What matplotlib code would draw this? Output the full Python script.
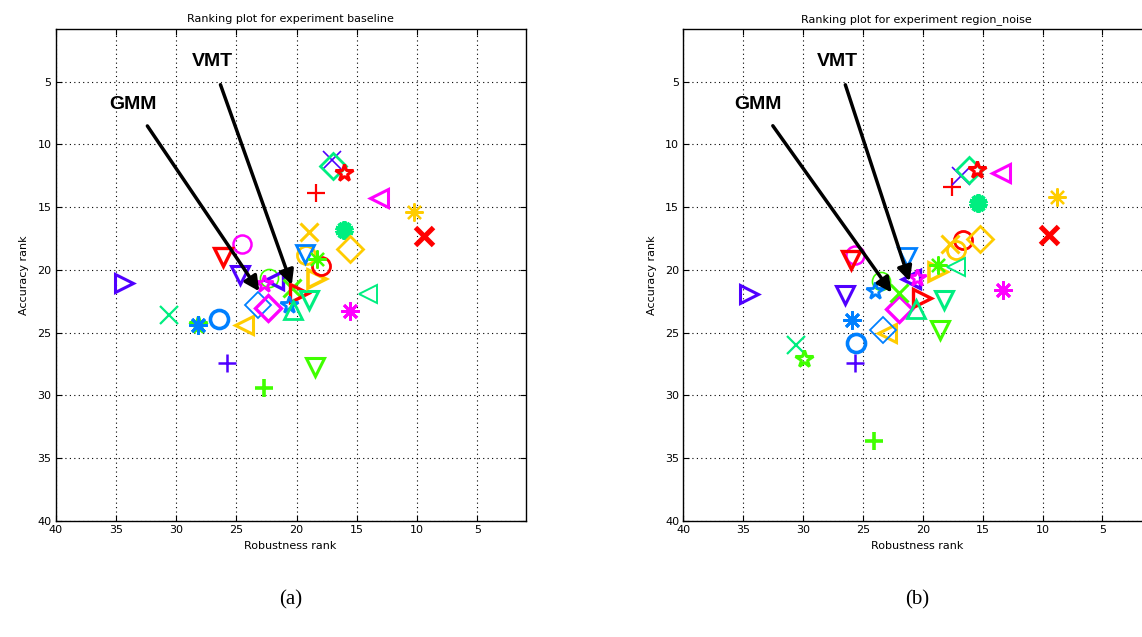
import matplotlib
matplotlib.use("Agg")
import matplotlib.pyplot as plt

RED = "#ff0000"
MAG = "#ff00ff"
PUR = "#5000ff"
BLU = "#0080ff"
TEA = "#00ee80"
LIM = "#40ff00"
YEL = "#ffcc00"

# one entry per tracker: marker, colour, line width
markers = [">", "x", "*", (8, 2, 0), "o", "+", "+", "o", "v", "v",
           "<", "D", "D", "o", "<", "x", ">", "*", "^", "v",
           "v", (8, 2, 0), ">", "o", "o", "v", (8, 2, 0), "x", (10, 2, 0), "D",
           "+", "x", "D", "*", "<", (8, 2, 0), "x", "*", "<"]
colors = [PUR, TEA, LIM, BLU, BLU, PUR, LIM, MAG, RED, PUR,
          YEL, BLU, MAG, LIM, PUR, LIM, RED, BLU, TEA, TEA,
          LIM, MAG, YEL, RED, YEL, BLU, LIM, YEL, TEA, YEL,
          RED, PUR, TEA, RED, MAG, YEL, RED, MAG, TEA]
widths = [2.2, 1.6, 2.2, 2.0, 2.6, 1.8, 2.6, 1.8, 2.4, 2.2,
          2.2, 1.3, 2.4, 1.2, 2.4, 2.2, 2.4, 2.0, 2.0, 2.2,
          2.2, 2.0, 2.6, 2.0, 2.0, 2.0, 1.6, 2.2, 3.0, 2.0,
          1.6, 1.2, 2.0, 2.2, 2.2, 1.6, 3.6, 2.0, 1.4]

# experiment baseline (robustness rank, accuracy rank)
base_rob = [34.3, 30.6, 28.2, 28.2, 26.4, 25.8, 22.7, 24.5, 26.1, 24.7,
            24.4, 23.2, 22.4, 22.3, 21.9, 20.4, 19.8, 20.6, 20.3, 19.0,
            18.5, 15.6, 18.3, 18.0, 19.2, 19.3, 18.3, 19.0, 16.1, 15.6,
            18.4, 17.1, 17.0, 16.1, 13.2, 10.3, 9.4, 22.7, 14.1]
base_acc = [21.0, 23.6, 24.4, 24.4, 23.9, 27.4, 29.4, 17.9, 19.0, 20.4,
            24.4, 22.8, 23.0, 20.6, 20.8, 21.4, 21.8, 22.8, 23.2, 22.4,
            27.7, 23.3, 20.7, 19.7, 18.8, 18.7, 19.1, 17.0, 16.8, 18.3,
            13.9, 11.2, 11.7, 12.3, 14.3, 15.4, 17.3, 21.1, 21.9]

# experiment region_noise
noise_rob = [34.5, 30.6, 29.9, 25.9, 25.6, 25.7, 24.1, 25.7, 26.0, 26.5,
             23.0, 23.3, 22.0, 23.5, 21.0, 22.0, 20.1, 24.0, 20.6, 18.2,
             18.6, 13.3, 18.7, 16.6, 17.2, 21.3, 18.7, 17.7, 15.4, 15.2,
             17.6, 16.8, 16.1, 15.5, 13.5, 8.8, 9.5, 20.5, 17.2]
noise_acc = [21.9, 26.0, 27.1, 24.0, 25.8, 27.4, 33.6, 18.8, 19.2, 22.0,
             25.0, 24.8, 23.1, 20.9, 20.7, 21.8, 22.2, 21.7, 23.1, 22.4,
             24.8, 21.6, 20.2, 17.6, 18.4, 19.0, 19.6, 17.9, 14.7, 17.5,
             13.4, 12.5, 12.0, 12.0, 12.3, 14.2, 17.2, 20.6, 19.8]

# annotation arrows: (text x, text y, tip x, tip y)
gmm_a = (33.6, 6.8, 23.1, 21.7)
vmt_a = (27.0, 3.4, 20.4, 21.2)
gmm_b = (33.8, 6.8, 22.6, 21.8)
vmt_b = (27.1, 3.4, 21.1, 20.9)


def draw_panel(ax, rob, acc, title, gmm, vmt, tag):
    for i in range(len(rob)):
        ax.plot(rob[i], acc[i], linestyle="none", marker=markers[i],
                markersize=13, markerfacecolor="none",
                markeredgecolor=colors[i], markeredgewidth=widths[i],
                color=colors[i])
    for name, (tx, ty, px, py) in (("GMM", gmm), ("VMT", vmt)):
        ax.annotate(name, xy=(px, py), xytext=(tx, ty), ha="center",
                    va="center", fontsize=14, fontweight="bold",
                    family="Liberation Sans",
                    arrowprops=dict(arrowstyle="-|>", color="black", lw=2.5,
                                    mutation_scale=22, shrinkA=9, shrinkB=0))
    ax.set_xlim(40, 1)
    ax.set_ylim(40, 0.8)
    ax.set_xticks([40, 35, 30, 25, 20, 15, 10, 5])
    ax.set_yticks([5, 10, 15, 20, 25, 30, 35, 40])
    ax.grid(True, color="black", linestyle=(0, (1, 3)), linewidth=0.8)
    ax.tick_params(direction="in", top=True, right=True, length=4,
                   labelsize=8, pad=3)
    ax.set_title(title, fontsize=8, pad=5)
    ax.set_xlabel("Robustness rank", fontsize=8, labelpad=4)
    ax.set_ylabel("Accuracy rank", fontsize=8, labelpad=6)
    for s in ax.spines.values():
        s.set_linewidth(1.0)
    ax.text(0.5, -0.16, tag, transform=ax.transAxes, ha="center", va="center",
            fontsize=15, family="Liberation Serif")


fig = plt.figure(figsize=(11.42, 6.37), dpi=100)
ax1 = fig.add_axes([55.6 / 1142, 116 / 637, 470 / 1142, 492 / 637])
ax2 = fig.add_axes([683.3 / 1142, 116 / 637, 467 / 1142, 492 / 637])

draw_panel(ax1, base_rob, base_acc, "Ranking plot for experiment baseline",
           gmm_a, vmt_a, "(a)")
draw_panel(ax2, noise_rob, noise_acc, "Ranking plot for experiment region_noise",
           gmm_b, vmt_b, "(b)")

fig.savefig("out.png", dpi=100)
